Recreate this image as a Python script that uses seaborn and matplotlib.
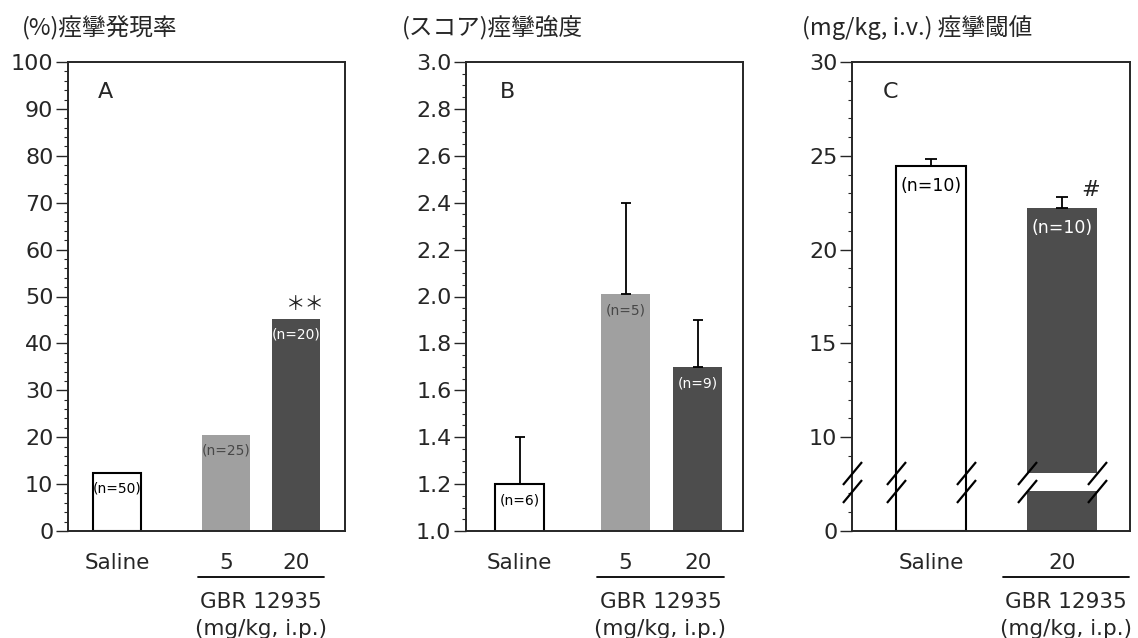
import numpy as np
import pandas as pd
import matplotlib
matplotlib.use("Agg")
import matplotlib.pyplot as plt
import matplotlib.transforms as mtransforms
from matplotlib.ticker import MultipleLocator, FixedLocator, FormatStrFormatter
import seaborn as sns

# ---------------- data ----------------
groups_a = ["Saline", "5", "20"]
incidence_pct = [12.4, 20.4, 45.2]
n_a = ["(n=50)", "(n=25)", "(n=20)"]

groups_b = ["Saline", "5", "20"]
severity_score = [1.2, 2.01, 1.7]
severity_se = [0.2, 0.39, 0.2]
n_b = ["(n=6)", "(n=5)", "(n=9)"]

groups_c = ["Saline", "20"]
threshold_mgkg = [24.45, 22.2]
threshold_se = [0.4, 0.6]
n_c = ["(n=10)", "(n=10)"]

titles = ["(%)痙攣発現率", "(スコア)痙攣強度", "(mg/kg, i.v.) 痙攣閾値"]
panel_letters = ["A", "B", "C"]
drug_label = "GBR 12935"
dose_unit = "(mg/kg, i.p.)"
sig_a = "＊＊"
sig_c = "#"

# ---------------- style ----------------
sns.set_style("ticks")
plt.rcParams["font.family"] = ["DejaVu Sans", "Noto Sans CJK JP"]
JP = ["Noto Sans CJK JP", "DejaVu Sans"]

bar_colors = {"Saline": "white", "5": "#a0a0a0", "20": "#4d4d4d"}
n_colors = {"Saline": "black", "5": "#474747", "20": "white"}

W, H = 1138, 638
fig = plt.figure(figsize=(W / 100, H / 100), dpi=100)


def px_axes(l, r, t, b):
    return fig.add_axes([l / W, 1 - b / H, (r - l) / W, (b - t) / H])


axA = px_axes(68, 345, 62, 531)
axB = px_axes(466, 743, 62, 531)
axC = px_axes(852, 1130, 62, 531)

pos_a = [0, 1.55, 2.55]
pos_b = [0, 1.47, 2.47]
pos_c = [0, 1]


def draw_bars(ax, pos, groups, vals, width):
    df = pd.DataFrame({"pos": pos, "group": groups, "value": vals})
    sns.barplot(data=df, x="pos", y="value", hue="group", hue_order=groups,
                palette=bar_colors, native_scale=True, width=width, dodge=False,
                errorbar=None, legend=False, saturation=1, ax=ax)
    patches = sorted(ax.patches, key=lambda p: p.get_x())
    for p, g in zip(patches, groups):
        if g == "Saline":
            p.set_edgecolor("black")
            p.set_linewidth(1.5)
        else:
            p.set_edgecolor(bar_colors[g])
            p.set_linewidth(0)
        p.set_zorder(2)
    return patches


def style_axis(ax):
    for s in ax.spines.values():
        s.set_linewidth(1.4)
        s.set_visible(True)
        s.set_zorder(5)
    ax.tick_params(axis="y", which="major", direction="out", length=8.5, width=1.0,
                   labelsize=16, pad=2)
    ax.tick_params(axis="y", which="minor", direction="out", length=2.8, width=0.8)
    ax.tick_params(axis="x", length=0, labelsize=15.5, pad=15.5)
    ax.set_xlabel("")
    ax.set_ylabel("")


def n_labels(ax, pos, vals, labels, groups, size, off):
    for x, v, t, g in zip(pos, vals, labels, groups):
        ax.annotate(t, xy=(x, v), xytext=(0, off), textcoords="offset points",
                    ha="center", va="top", fontsize=size, color=n_colors[g], zorder=6)


def drug_group(ax, x0, x1):
    tr = mtransforms.blended_transform_factory(ax.transData, ax.transAxes)
    ax.plot([x0, x1], [-0.098, -0.098], transform=tr, clip_on=False, color="black", lw=1.3)
    xm = (x0 + x1) / 2
    ax.text(xm, -0.152, drug_label, transform=tr, ha="center", va="center", fontsize=15.5)
    ax.text(xm, -0.208, dose_unit, transform=tr, ha="center", va="center", fontsize=15.5)


# ---------------- Panel A ----------------
draw_bars(axA, pos_a, groups_a, incidence_pct, 0.68)
axA.set_xlim(-0.7, 3.25)
axA.set_ylim(0, 100)
axA.yaxis.set_major_locator(MultipleLocator(10))
axA.yaxis.set_minor_locator(MultipleLocator(2))
axA.set_xticks(pos_a, groups_a)
style_axis(axA)
n_labels(axA, pos_a, incidence_pct, n_a, groups_a, 10, -6)
axA.text(pos_a[2] + 0.13, incidence_pct[2] + 3.2, sig_a, ha="center", va="center",
         fontsize=14, family=JP, color="#222222")
drug_group(axA, pos_a[1] - 0.4, pos_a[2] + 0.4)

# ---------------- Panel B ----------------
draw_bars(axB, pos_b, groups_b, severity_score, 0.68)
axB.errorbar(pos_b, severity_score, yerr=[np.zeros(len(severity_se)), severity_se],
             fmt="none", ecolor="black", elinewidth=1.3, capsize=3.8, capthick=1.3, zorder=3)
axB.set_xlim(-0.743, 3.10)
axB.set_ylim(1.0, 3.0)
axB.yaxis.set_major_locator(MultipleLocator(0.2))
axB.yaxis.set_minor_locator(MultipleLocator(0.05))
axB.yaxis.set_major_formatter(FormatStrFormatter("%.1f"))
axB.set_xticks(pos_b, groups_b)
style_axis(axB)
n_labels(axB, pos_b, severity_score, n_b, groups_b, 10, -7)
drug_group(axB, pos_b[1] - 0.4, pos_b[2] + 0.37)

# ---------------- Panel C (broken axis) ----------------
patches_c = draw_bars(axC, pos_c, groups_c, threshold_mgkg, 0.534)
axC.errorbar(pos_c, threshold_mgkg, yerr=[np.zeros(len(threshold_se)), threshold_se],
             fmt="none", ecolor="black", elinewidth=1.3, capsize=4.5, capthick=1.3, zorder=3)
bp_v = [0, 2.4, 7.6, 100]
bp_d = [0, 2.4, 2.6, 95]
axC.set_yscale("function", functions=(lambda v: np.interp(v, bp_v, bp_d),
                                      lambda d: np.interp(d, bp_d, bp_v)))
axC.set_ylim(0, 30)
axC.set_xlim(-0.603, 1.519)
axC.yaxis.set_major_locator(FixedLocator([0, 10, 15, 20, 25, 30]))
axC.yaxis.set_minor_locator(FixedLocator([1, 2, 9] + [v for v in range(11, 30) if v % 5]))
axC.yaxis.set_major_formatter(FormatStrFormatter("%d"))
axC.set_xticks(pos_c, groups_c)
style_axis(axC)
n_labels(axC, pos_c, threshold_mgkg, n_c, groups_c, 12.5, -8)
axC.text(pos_c[1] + 0.22, threshold_mgkg[1] + threshold_se[1] + 0.4, sig_c,
         ha="center", va="center", fontsize=16)
drug_group(axC, pos_c[1] - 0.45, pos_c[1] + 0.51)

# break: white band across dark bar and slash pairs on every vertical edge
brk_lo, brk_hi = 2.15, 8.11
pg = patches_c[1]
axC.add_patch(plt.Rectangle((pg.get_x() - 0.01, brk_lo), pg.get_width() + 0.02,
                            brk_hi - brk_lo, facecolor="white", edgecolor="none", zorder=3))
edges = [axC.get_xlim()[0]]
for p in patches_c:
    edges += [p.get_x(), p.get_x() + p.get_width()]
slash = [(-0.83, -1.0), (0.83, 1.0)]
for yb in (brk_lo, brk_hi):
    axC.plot(edges, [yb] * len(edges), ls="none", marker=slash, ms=16.5, mew=1.6,
             color="black", clip_on=False, zorder=7)

# ---------------- titles & panel letters ----------------
for ax, t, xpx in zip([axA, axB, axC], titles, [22, 402, 802]):
    fig.text(xpx / W, 1 - 28 / H, t, ha="left", va="center", fontsize=17, family=JP)
for ax, L, xa in zip([axA, axB, axC], panel_letters, [0.108, 0.123, 0.112]):
    ax.text(xa, 0.936, L, transform=ax.transAxes, ha="left", va="center", fontsize=16)

fig.savefig("out.png", dpi=100)
